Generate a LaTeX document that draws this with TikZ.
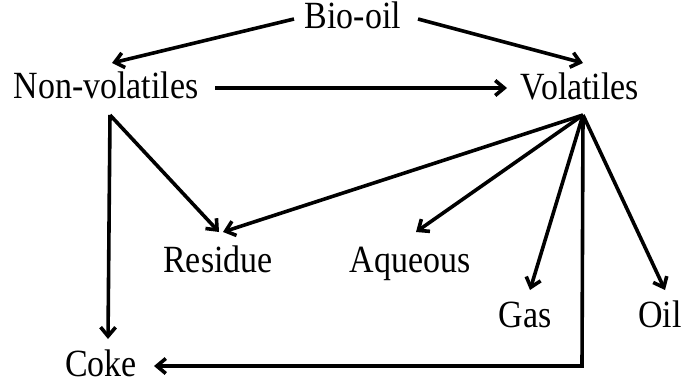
\documentclass[tikz,border=0pt]{standalone}
\usepackage{fontspec}
\usepackage{graphicx}
\setmainfont{Liberation Serif}
\usetikzlibrary{arrows.meta}
\newcommand{\tallText}[1]{\scalebox{0.97}[1.1]{#1}}
\begin{document}
\begin{tikzpicture}[x=1pt,y=-1pt,
  lbl/.style={anchor=base,inner sep=0pt,font=\fontsize{35}{40}\selectfont},
  arr/.style={line width=3.6pt,-{Straight Barb[length=9pt,width=15pt,line width=3.6pt]}}]
\useasboundingbox (0,0) rectangle (683,385);
\node[lbl] (bio) at (353,29) {\tallText{Bio-oil}};
\node[lbl] (nv) at (106,99) {\tallText{Non-volatiles}};
\node[lbl] (vol) at (580,100) {\tallText{Volatiles}};
\node[lbl] (res) at (218,272) {\tallText{Residue}};
\node[lbl] (aq) at (410,272) {\tallText{Aqueous}};
\node[lbl] (gas) at (525,327) {\tallText{Gas}};
\node[lbl] (oil) at (660,327) {\tallText{Oil}};
\node[lbl] (coke) at (101,376) {\tallText{Coke}};
% connector end points (named)
\coordinate (bioL) at (294,19);
\coordinate (bioR) at (418,19);
\coordinate (nvT) at (112,63);
\coordinate (volT) at (583,63);
\coordinate (nvR) at (215,88);
\coordinate (volL) at (507,88);
\coordinate (nvB) at (110,115);
\coordinate (volB) at (583,115);
\coordinate (cokeT) at (108,339);
\coordinate (resT1) at (219,232);
\coordinate (resT2) at (223,232);
\coordinate (aqT) at (416,232);
\coordinate (gasT) at (530,290);
\coordinate (oilT) at (665,290);
\coordinate (corner) at (582,366);
\coordinate (cokeR) at (154,366);
\draw[arr] (bioL) -- (nvT);
\draw[arr] (bioR) -- (volT);
\draw[arr] (nvR) -- (volL);
\draw[arr] (nvB) -- (cokeT);
\draw[arr] (nvB) -- (resT1);
\draw[arr] (volB) -- (resT2);
\draw[arr] (volB) -- (aqT);
\draw[arr] (volB) -- (gasT);
\draw[arr] (volB) -- (oilT);
\draw[arr,line join=miter] (volB) -- (corner) -- (cokeR);
\end{tikzpicture}
\end{document}
